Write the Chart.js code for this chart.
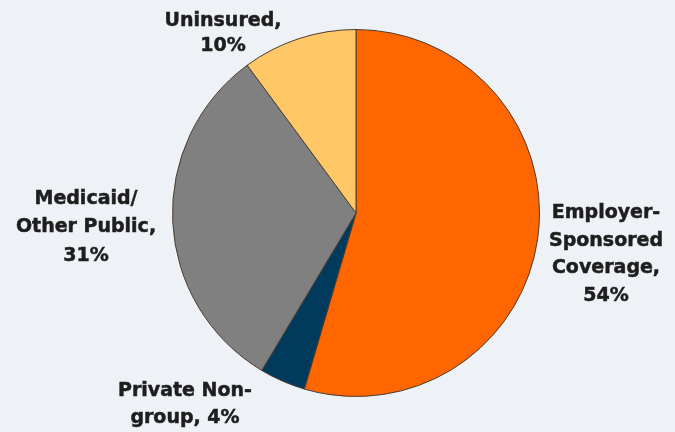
<!DOCTYPE html>
<html><head><meta charset="utf-8">
<script src="https://cdn.jsdelivr.net/npm/chart.js@4"></script>
<style>
html,body{margin:0;padding:0;background:#eef2f6;}
#wrap{width:675px;height:432px;position:relative;}
</style></head>
<body><div id="wrap"><canvas id="c" width="675" height="432"></canvas></div>
<script>
const categories = ["Employer-Sponsored Coverage", "Private Non-group", "Medicaid/Other Public", "Uninsured"];
const values = [54, 4, 31, 10];
const labelLines = [
  ["Employer-", "Sponsored", "Coverage,", "54%"],
  ["Private Non-", "group, 4%"],
  ["Medicaid/", "Other Public,", "31%"],
  ["Uninsured,", "10%"]
];
const colors = ["#ff6600", "#003a5c", "#808080", "#ffc766"];
// label anchor (center of first line) relative to pie center, in px
const labelAnchors = [[250, 0], [-171, 178], [-270, -14], [-133, -192]];
const lineHeights = [27.7, 27, 28.5, 25];

const labelPlugin = {
  id: 'outLabels',
  afterDatasetsDraw(chart) {
    const ctx = chart.ctx;
    const arc = chart.getDatasetMeta(0).data[0];
    const cx = arc.x, cy = arc.y;
    ctx.save();
    ctx.font = 'bold 19px "DejaVu Sans", Verdana, sans-serif';
    ctx.fillStyle = '#1e1e1e';
    ctx.strokeStyle = '#1e1e1e';
    ctx.lineWidth = 0.5;
    ctx.textAlign = 'center';
    ctx.textBaseline = 'middle';
    labelLines.forEach((lines, i) => {
      const [dx, dy] = labelAnchors[i];
      lines.forEach((t, j) => {
        ctx.fillText(t, cx + dx, cy + dy + j * lineHeights[i]);
        ctx.strokeText(t, cx + dx, cy + dy + j * lineHeights[i]);
      });
    });
    ctx.restore();
  }
};

new Chart(document.getElementById('c'), {
  type: 'pie',
  data: {
    labels: categories,
    datasets: [{
      data: values,
      backgroundColor: colors,
      borderColor: '#4a3c30',
      borderWidth: 1
    }]
  },
  options: {
    responsive: false,
    animation: false,
    events: [],
    layout: { padding: { top: 29, bottom: 35, left: 172, right: 135 } },
    plugins: { legend: { display: false }, tooltip: { enabled: false } }
  },
  plugins: [labelPlugin]
});
</script></body></html>
